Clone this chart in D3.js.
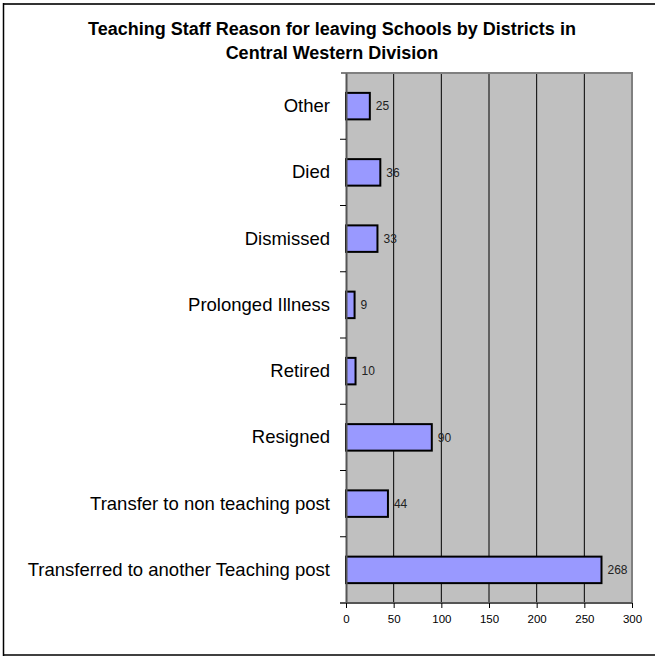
<!DOCTYPE html>
<html lang="en">
<head>
<meta charset="UTF-8">
<title>Teaching Staff Reason for leaving Schools</title>
<script src="https://cdnjs.cloudflare.com/ajax/libs/d3/7.8.5/d3.min.js"></script>
<style>
    body { margin: 0; padding: 0; background: #fff; }
    svg { display: block; font-family: Arial, "Liberation Sans", sans-serif; }
</style>
</head>
<body>
<div id="chart"></div>
<script>
    // categories top to bottom, as drawn
    const categories = [
        "Other",
        "Died",
        "Dismissed",
        "Prolonged Illness",
        "Retired",
        "Resigned",
        "Transfer to non teaching post",
        "Transferred to another Teaching post"
    ];
    const values = [25, 36, 33, 9, 10, 90, 44, 268];
    const xTicks = [0, 50, 100, 150, 200, 250, 300];
    const titleLines = [
        "Teaching Staff Reason for leaving Schools by Districts in",
        "Central Western Division"
    ];

    const W = 655, H = 656;
    const plot = { left: 346, right: 632, top: 73, bottom: 603 };
    const fontFam = "Arial, 'Liberation Sans', sans-serif";

    const svg = d3.select("#chart").append("svg")
        .attr("width", W)
        .attr("height", H);

    // outer frame: top, left and bottom only
    svg.append("line").attr("x1", 3).attr("x2", W).attr("y1", 4).attr("y2", 4)
        .attr("stroke", "#333").attr("stroke-width", 2);
    svg.append("line").attr("x1", 3.5).attr("x2", 3.5).attr("y1", 3).attr("y2", H)
        .attr("stroke", "#000").attr("stroke-width", 1.5);
    svg.append("line").attr("x1", 3).attr("x2", W).attr("y1", 655).attr("y2", 655)
        .attr("stroke", "#000").attr("stroke-width", 1.5);

    svg.selectAll(".title")
        .data(titleLines)
        .enter().append("text")
        .attr("class", "title")
        .attr("x", 332)
        .attr("y", (d, i) => 35 + i * 23.5)
        .attr("text-anchor", "middle")
        .attr("font-size", 18)
        .attr("font-weight", "bold")
        .text(d => d);

    const x = d3.scaleLinear().domain([0, 300]).range([plot.left, plot.right]);
    const y = d3.scaleBand().domain(categories).range([plot.top, plot.bottom]).paddingInner(0.6).paddingOuter(0.3);
    const yb = d3.scaleBand().domain(categories).range([plot.top, plot.bottom]);

    // plot background
    svg.append("rect")
        .attr("x", plot.left).attr("y", plot.top)
        .attr("width", plot.right - plot.left).attr("height", plot.bottom - plot.top)
        .attr("fill", "#c0c0c0");

    // gridlines
    svg.selectAll(".grid")
        .data(xTicks.slice(1, -1))
        .enter().append("line")
        .attr("x1", d => x(d)).attr("x2", d => x(d))
        .attr("y1", plot.top).attr("y2", plot.bottom)
        .attr("stroke", "#000").attr("stroke-width", 1);

    // plot border top/right in grey
    svg.append("path")
        .attr("d", `M${plot.left - 5},${plot.top} H${plot.right} V${plot.bottom}`)
        .attr("fill", "none").attr("stroke", "#808080").attr("stroke-width", 2);

    // bars
    svg.selectAll(".bar")
        .data(values)
        .enter().append("rect")
        .attr("x", x(0))
        .attr("y", (d, i) => y(categories[i]))
        .attr("width", d => x(d) - x(0))
        .attr("height", y.bandwidth())
        .attr("fill", "#9999ff")
        .attr("stroke", "#000")
        .attr("stroke-width", 2);

    svg.selectAll(".val")
        .data(values)
        .enter().append("text")
        .attr("x", d => x(d) + 6)
        .attr("y", (d, i) => y(categories[i]) + y.bandwidth() / 2)
        .attr("dy", "0.35em")
        .attr("font-size", 12)
        .attr("fill", "#222")
        .text(d => d);

    // category axis
    const yAxis = svg.append("g")
        .attr("transform", `translate(${plot.left},0)`)
        .call(d3.axisLeft(yb).tickSize(0).tickPadding(16));
    yAxis.select(".domain").attr("stroke", "#555").attr("stroke-width", 2);
    yAxis.selectAll("text").attr("font-size", 18.5).attr("font-family", fontFam).attr("fill", "#000");

    // tick marks at band boundaries
    svg.selectAll(".ytick")
        .data(categories.slice(1))
        .enter().append("line")
        .attr("x1", plot.left - 6).attr("x2", plot.left)
        .attr("y1", d => yb(d)).attr("y2", d => yb(d))
        .attr("stroke", "#000");

    // value axis
    const xAxis = svg.append("g")
        .attr("transform", `translate(0,${plot.bottom})`)
        .call(d3.axisBottom(x).tickValues(xTicks).tickSize(5).tickPadding(7));
    xAxis.select(".domain").attr("stroke", "#555").attr("stroke-width", 2).attr("d", `M${plot.left - 6},0H${plot.right}`);
    xAxis.selectAll("line").attr("stroke", "#000");
    xAxis.selectAll("text").attr("font-size", 11.5).attr("font-family", fontFam).attr("fill", "#000");
</script>
</body>
</html>
